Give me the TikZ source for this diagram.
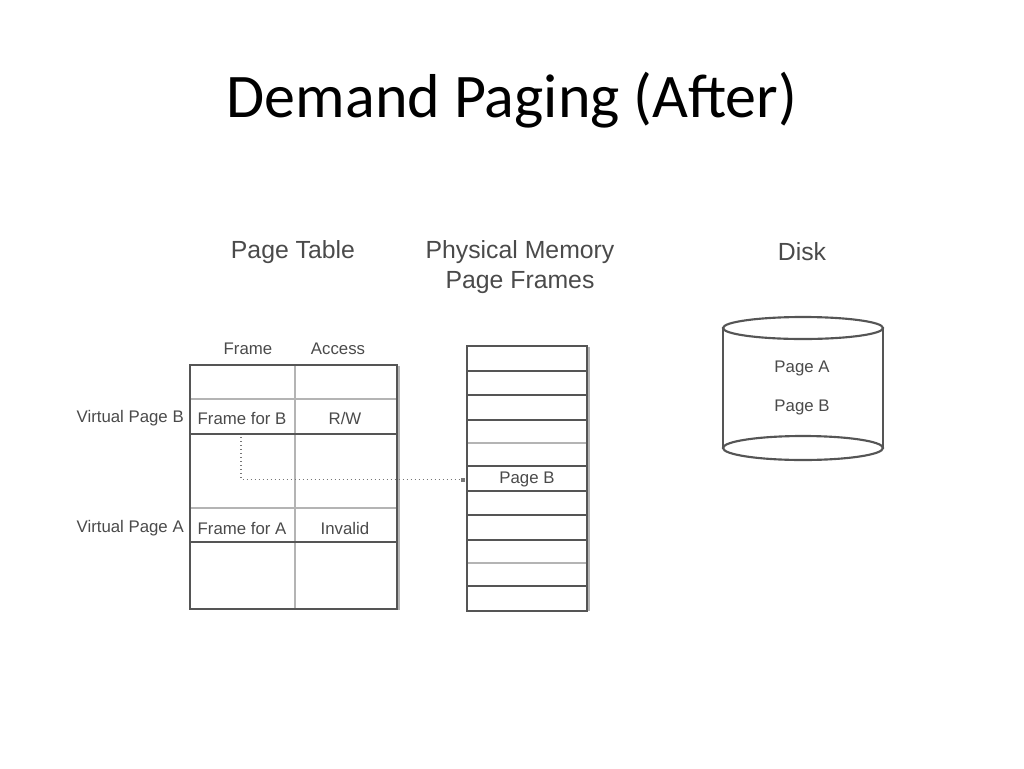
\documentclass[tikz,border=0pt]{standalone}
\usepackage{fontspec}
\setmainfont{Liberation Sans}
\newfontfamily\titlefont{Carlito}
\usetikzlibrary{arrows.meta}
\definecolor{dk}{HTML}{555555}
\definecolor{lt}{HTML}{B4B4B4}
\definecolor{tx}{HTML}{4A4A4A}
\begin{document}
\begin{tikzpicture}[x=0.75pt,y=-0.75pt,
  dkline/.style={draw=dk,line width=1.4pt},
  ltline/.style={draw=lt,line width=2pt},
  thinline/.style={draw=dk,line width=1pt},
  head/.style={text=tx,font=\fontsize{18.6}{21}\selectfont,inner sep=0pt},
  small/.style={text=tx,font=\fontsize{12.6}{14}\selectfont,inner sep=0pt},
  conn/.style={draw=dk!80,dotted,line width=1pt,-{Square[length=3pt,width=3pt]},shorten >=1pt}]
\useasboundingbox (0,0) rectangle (1024,768);
% title
\node[inner sep=0pt,font=\titlefont\fontsize{46.5}{50}\selectfont] (title) at (512,100) {Demand Paging (After)};
% headers
\node[head] (hpt) at (293,252) {Page Table};
\node[head,align=center] (hpm) at (520,267) {Physical Memory\\[2pt]Page Frames};
\node[head] (hdisk) at (802,252) {Disk};
% page table
\node[small] (hframe) at (248,349) {Frame};
\node[small] (hacc) at (338,349) {Access};
\draw[ltline] (295,365) -- (295,609);
\draw[ltline] (190,399) -- (397,399);
\draw[ltline] (190,508) -- (397,508);
\draw[thinline] (190,434) -- (397,434);
\draw[thinline] (190,542) -- (397,542);
\draw[dkline] (190,365) rectangle (397,609);
\draw[lt,line width=1.2pt] (399,366) -- (399,610);
\node[small,anchor=east] (vpb) at (184,418) {Virtual Page B};
\node[small] (ffb) at (242,418) {Frame for B};
\node[small] (rw) at (345,418) {R/W};
\node[small,anchor=east] (vpa) at (184,528) {Virtual Page A};
\node[small] (ffa) at (242,528) {Frame for A};
\node[small] (inv) at (345,528) {Invalid};
% physical memory
\foreach \y in {371,395,420,466,491,515,540,586}
  \draw[thinline] (467,\y) -- (587,\y);
\foreach \y in {443,563}
  \draw[ltline,line width=1.6pt] (467,\y) -- (587,\y);
\draw[lt,line width=1.6pt] (589,347) -- (589,611);
\draw[dkline] (467,346) rectangle (587,611);
\node[small,minimum width=90pt,minimum height=18pt] (pgb) at (527,479.5) {Page B};
% connector
\coordinate (fb) at (241,437);
\draw[conn] (fb) |- (pgb.west);
% disk
\draw[dk,line width=1.6pt] (723,328) -- (723,448);
\draw[dk,line width=1.2pt] (883,328) -- (883,448);
\draw[dk,line width=1.6pt] (803,328) ellipse [x radius=80, y radius=11];
\draw[dk,line width=1.6pt] (803,448) ellipse [x radius=80, y radius=12];
\node[small] (dpa) at (802,368) {Page A};
\node[small] (dpb) at (802,407) {Page B};
\end{tikzpicture}
\end{document}
